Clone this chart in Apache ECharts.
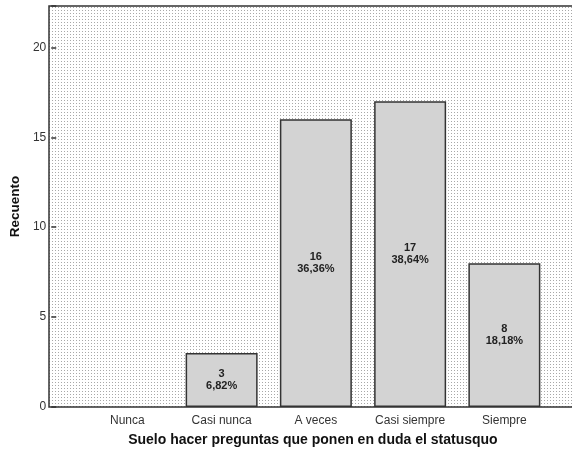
<!DOCTYPE html>
<html lang="es">
<head>
<meta charset="UTF-8">
<title>Recuento</title>
<script src="https://cdn.jsdelivr.net/npm/echarts@6/dist/echarts.min.js"></script>
<style>
  body { margin: 0; background: #fff; }
</style>
</head>
<body>
<div id="main" style="width: 572px; height: 456px"></div>
<script type="text/javascript">
// categories and counts
const categories = ["Nunca", "Casi nunca", "A veces", "Casi siempre", "Siempre"];
const counts = [0, 3, 16, 17, 8];
const yTicks = [0, 5, 10, 15, 20];

const total = counts.reduce((a, b) => a + b, 0);

// dotted background like SPSS
const dots = document.createElement("canvas");
dots.width = 3;
dots.height = 3;
const ctx = dots.getContext("2d");
ctx.fillStyle = "#ffffff";
ctx.fillRect(0, 0, 3, 3);
ctx.fillStyle = "#a8a8a8";
ctx.fillRect(1, 1, 1, 1);

let myChart = echarts.init(document.getElementById("main"));

// zero bars get no outline (SPSS draws nothing for them)
const barData = counts.map((v) =>
  v === 0 ? { value: v, itemStyle: { borderWidth: 0, color: "transparent" } } : v
);

let options = {
  animation: false,
  textStyle: { fontFamily: "Liberation Sans, Arial, sans-serif" },
  grid: { left: 73, right: 20.5, top: 6, bottom: 49 },
  graphic: [
    {
      type: "rect",
      z: -10,
      shape: { x: 49, y: 6, width: 540, height: 401 },
      style: { fill: { image: dots, repeat: "repeat" }, stroke: "#333", lineWidth: 1.5 }
    }
  ],
  xAxis: {
    type: "category",
    data: categories,
    name: "Suelo hacer preguntas que ponen en duda el statusquo",
    nameLocation: "middle",
    nameGap: 26,
    nameTextStyle: { fontSize: 14, fontWeight: "bold", color: "#111", padding: [0, 6, 0, 0] },
    axisLine: { show: false },
    axisTick: { alignWithLabel: true, length: 5, lineStyle: { color: "#333", width: 1.5 } },
    axisLabel: { fontSize: 12, color: "#333", margin: 8 }
  },
  yAxis: {
    type: "value",
    min: 0,
    max: 22.3,
    interval: 5,
    offset: 24,
    name: "Recuento",
    nameLocation: "middle",
    nameGap: 28,
    nameTextStyle: { fontSize: 13.5, fontWeight: "bold", color: "#111" },
    axisLine: { show: false },
    axisTick: { show: true, length: 5, lineStyle: { color: "#333", width: 1.5 } },
    axisLabel: {
      fontSize: 12,
      color: "#333",
      margin: 10,
      formatter: (v) => (yTicks.includes(v) ? String(v) : "")
    },
    splitLine: { show: false }
  },
  series: [
    {
      type: "bar",
      data: barData,
      barWidth: 72,
      itemStyle: { color: "#d3d3d3", borderColor: "#333", borderWidth: 1.5 },
      label: {
        show: true,
        position: "inside",
        color: "#222",
        fontSize: 11,
        fontWeight: "bold",
        lineHeight: 12,
        formatter: (p) => {
          if (!p.value) return "";
          const pct = ((p.value / total) * 100).toFixed(2).replace(".", ",");
          return p.value + "\n" + pct + "%";
        }
      }
    }
  ]
};

myChart.setOption(options);
</script>
</body>
</html>
